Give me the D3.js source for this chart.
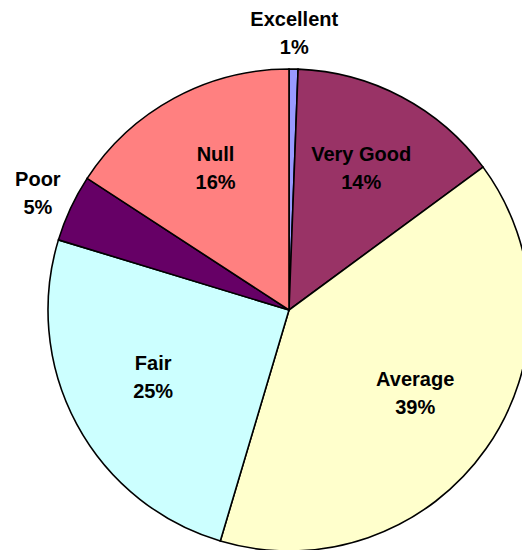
<!DOCTYPE html>
<head>
  <meta charset="utf-8">
  <script src="https://d3js.org/d3.v7.min.js"></script>
<style>
body { margin:0; background:#fff; }
.label { font-family: "Liberation Sans", Arial, sans-serif; font-weight: bold; font-size: 20px; fill: #000; }
.slice { stroke: #000; stroke-width: 1.6px; }
</style>
</head>
<body>
<script>
// slice data, clockwise from 12 o'clock
var categories = ["Excellent", "Very Good", "Average", "Fair", "Poor", "Null"];
var values = [0.6, 14.3, 39.7, 25.1, 4.5, 15.8];
var percentLabels = ["1%", "14%", "39%", "25%", "5%", "16%"];
var colors = ["#9999ff", "#993366", "#ffffcc", "#ccffff", "#660066", "#ff8080"];

var width = 522, height = 550,
    cx = 289, cy = 310, radius = 241;

var svg = d3.select("body").append("svg")
    .attr("width", width)
    .attr("height", height)
  .append("g")
    .attr("transform", "translate(" + cx + "," + cy + ")");

var pie = d3.pie().sort(null).value(d => d.value);
var arc = d3.arc().innerRadius(0).outerRadius(radius);

// labels inside for big slices, outside for small ones
var inner = d3.arc().innerRadius(radius * 0.64).outerRadius(radius * 0.64);
var outer = d3.arc().innerRadius(radius * 1.15).outerRadius(radius * 1.15);
var isSmall = d => d.data.value < 6;

var data = categories.map((c, i) => ({name: c, value: values[i], pct: percentLabels[i], color: colors[i]}));
var arcs = pie(data);

svg.selectAll("path.slice")
    .data(arcs)
  .enter().append("path")
    .attr("class", "slice")
    .attr("fill", d => d.data.color)
    .attr("d", arc);

var labels = svg.selectAll("text.label")
    .data(arcs)
  .enter().append("text")
    .attr("class", "label")
    .attr("text-anchor", "middle")
    .attr("transform", d => {
      var p = (isSmall(d) ? outer : inner).centroid(d);
      return "translate(" + p[0] + "," + (p[1] + (isSmall(d) ? 0 : -6)) + ")";
    });

labels.append("tspan")
    .attr("x", 0)
    .attr("y", -7)
    .text(d => d.data.name);

labels.append("tspan")
    .attr("x", 0)
    .attr("y", 21)
    .text(d => d.data.pct);
</script>
</body>
